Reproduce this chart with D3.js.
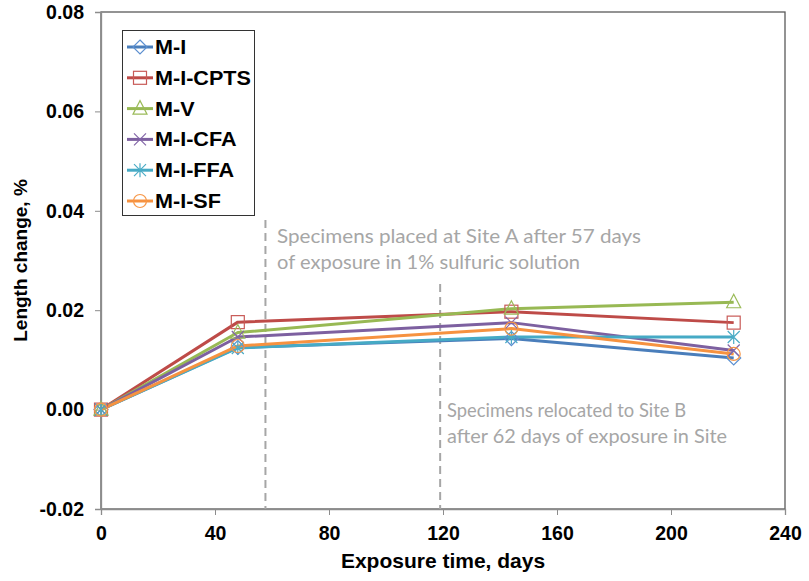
<!DOCTYPE html>
<html>
<head>
<meta charset="utf-8">
<script src="https://cdn.jsdelivr.net/npm/d3@7"></script>
<style>
  html, body { margin: 0; padding: 0; background: #fff; }
  svg { display: block; }
</style>
</head>
<body>
<svg id="chart" width="809" height="581"></svg>
<script>
// ---- data ----
const days = [0, 48, 144, 222];
const seriesNames = ["M-I", "M-I-CPTS", "M-V", "M-I-CFA", "M-I-FFA", "M-I-SF"];
const valMI   = [0, 0.0125, 0.0143, 0.0104];
const valCPTS = [0, 0.0176, 0.0197, 0.0175];
const valMV   = [0, 0.0155, 0.0203, 0.0216];
const valCFA  = [0, 0.0146, 0.0175, 0.0119];
const valFFA  = [0, 0.0124, 0.0146, 0.0146];
const valSF   = [0, 0.0128, 0.0163, 0.0112];
const xTicks = [0, 40, 80, 120, 160, 200, 240];
const yTicks = [-0.02, 0.00, 0.02, 0.04, 0.06, 0.08];
const eventDays = [57.7, 119];
const note1 = ["Specimens placed at Site A after 57 days", "of exposure in 1% sulfuric solution"];
const note2 = ["Specimens relocated to Site B", "after 62 days of exposure in Site"];

const seriesValues = [valMI, valCPTS, valMV, valCFA, valFFA, valSF];
const lineColors   = ["#4A7EBB", "#BE4B48", "#98B954", "#7D60A0", "#46AAC5", "#F69240"];
const markColors   = ["#5B8FD0", "#C85A57", "#9BBB59", "#8366A8", "#4BACC6", "#F79646"];
const markShapes   = ["diamond", "square", "triangle", "x", "star", "circle"];

const W = 809, H = 581;
const m = {left: 101, right: 24, top: 12, bottom: 72};
const svg = d3.select("#chart");
const x = d3.scaleLinear().domain([0, 240]).range([m.left, W - m.right]);
const y = d3.scaleLinear().domain([-0.02, 0.08]).range([H - m.bottom, m.top]);
const FONT = "'Liberation Sans', Arial, sans-serif";

// plot border (top/right)
svg.append("rect")
  .attr("x", x(0)).attr("y", y(0.08))
  .attr("width", x(240) - x(0)).attr("height", y(-0.02) - y(0.08))
  .attr("fill", "none").attr("stroke", "#5a5a5a").attr("stroke-width", 1.3);

// axes
const fmtY = d => d3.format(".2f")(d).replace("\u2212", "-");
const yAxis = d3.axisLeft(y).tickValues(yTicks).tickSize(6).tickPadding(11).tickFormat(fmtY);
const gy = svg.append("g").attr("transform", `translate(${x(0)},0)`).call(yAxis);
const xAxis = d3.axisBottom(x).tickValues(xTicks).tickSize(6).tickPadding(11)
  .tickFormat(d3.format("d"));
const gx = svg.append("g").attr("transform", `translate(0,${y(-0.02)})`).call(xAxis);
[gx, gy].forEach(g => {
  g.select(".domain").attr("stroke", "#8c8c8c").attr("stroke-width", 1.3);
  g.selectAll(".tick line").attr("stroke", "#8c8c8c").attr("stroke-width", 1);
  g.selectAll(".tick text").attr("fill", "#000").attr("font-family", FONT)
    .attr("font-weight", "bold").attr("font-size", 19.5);
});

// axis titles
svg.append("text").attr("x", (x(0) + x(240)) / 2).attr("y", 568)
  .attr("text-anchor", "middle").attr("font-family", FONT).attr("font-weight", "bold")
  .attr("font-size", 21).text("Exposure time, days");
svg.append("text").attr("transform", `translate(27,${(y(0.08) + y(-0.02)) / 2}) rotate(-90)`)
  .attr("text-anchor", "middle").attr("font-family", FONT).attr("font-weight", "bold")
  .attr("font-size", 19).text("Length change, %");

// event dashed lines
const eventTops = [220, 284];
eventDays.forEach((d, i) => {
  svg.append("line").attr("x1", x(d)).attr("x2", x(d))
    .attr("y1", eventTops[i]).attr("y2", y(-0.02))
    .attr("stroke", "#a6a6a6").attr("stroke-width", 2).attr("stroke-dasharray", "8,5");
});

// annotation texts
const NOTEFONT = "Lato, 'Open Sans', sans-serif";
function note(lines, x0, y0, widths) {
  lines.forEach((t, i) => {
    svg.append("text").attr("x", x0).attr("y", y0 + i * 25.5)
      .attr("font-family", NOTEFONT).attr("font-size", 19).attr("fill", "#a6a6a6")
      .attr("textLength", widths[i]).attr("lengthAdjust", "spacingAndGlyphs")
      .text(t);
  });
}
note(note1, 277, 243, [364, 303]);
note(note2, 447, 417, [239, 280]);

// marker generator
function drawMarker(g, shape, cx, cy, color) {
  const s = 7;
  if (shape === "diamond") {
    g.append("path").attr("d", `M${cx},${cy - s}L${cx + s},${cy}L${cx},${cy + s}L${cx - s},${cy}Z`)
      .attr("fill", "none").attr("stroke", color).attr("stroke-width", 1.2);
  } else if (shape === "square") {
    g.append("rect").attr("x", cx - 6.5).attr("y", cy - 6.5).attr("width", 13).attr("height", 13)
      .attr("fill", "none").attr("stroke", color).attr("stroke-width", 1.2);
  } else if (shape === "triangle") {
    g.append("path").attr("d", `M${cx},${cy - 8}L${cx + 7},${cy + 5.5}L${cx - 7},${cy + 5.5}Z`)
      .attr("fill", "none").attr("stroke", color).attr("stroke-width", 1.2);
  } else if (shape === "x") {
    g.append("path").attr("d", `M${cx - 6},${cy - 6}L${cx + 6},${cy + 6}M${cx - 6},${cy + 6}L${cx + 6},${cy - 6}`)
      .attr("fill", "none").attr("stroke", color).attr("stroke-width", 1.2);
  } else if (shape === "star") {
    g.append("path").attr("d", `M${cx - 6},${cy - 6}L${cx + 6},${cy + 6}M${cx - 6},${cy + 6}L${cx + 6},${cy - 6}M${cx},${cy - 7}L${cx},${cy + 7}`)
      .attr("fill", "none").attr("stroke", color).attr("stroke-width", 1.2);
  } else if (shape === "circle") {
    g.append("circle").attr("cx", cx).attr("cy", cy).attr("r", 6.5)
      .attr("fill", "none").attr("stroke", color).attr("stroke-width", 1.2);
  }
}

// series lines
const line = d3.line().x((d, i) => x(days[i])).y(d => y(d));
const gLines = svg.append("g");
seriesValues.forEach((vals, k) => {
  gLines.append("path").datum(vals).attr("d", line)
    .attr("fill", "none").attr("stroke", lineColors[k]).attr("stroke-width", 3)
    .attr("stroke-linejoin", "round");
});
const gMarks = svg.append("g");
seriesValues.forEach((vals, k) => {
  vals.forEach((v, i) => drawMarker(gMarks, markShapes[k], x(days[i]), y(v), markColors[k]));
});

// legend
const lg = svg.append("g");
lg.append("rect").attr("x", 122.5).attr("y", 30.5).attr("width", 132).attr("height", 185)
  .attr("fill", "#fff").attr("stroke", "#333").attr("stroke-width", 1);
seriesNames.forEach((name, k) => {
  const cy = 47 + k * 30.8;
  lg.append("line").attr("x1", 127).attr("x2", 153).attr("y1", cy).attr("y2", cy)
    .attr("stroke", lineColors[k]).attr("stroke-width", 3);
  drawMarker(lg, markShapes[k], 140, cy, markColors[k]);
  lg.append("text").attr("transform", `translate(155,${cy + 7}) scale(1.08,1)`)
    .attr("font-family", FONT).attr("font-weight", "bold").attr("font-size", 20)
    .text(name);
});
</script>
</body>
</html>
